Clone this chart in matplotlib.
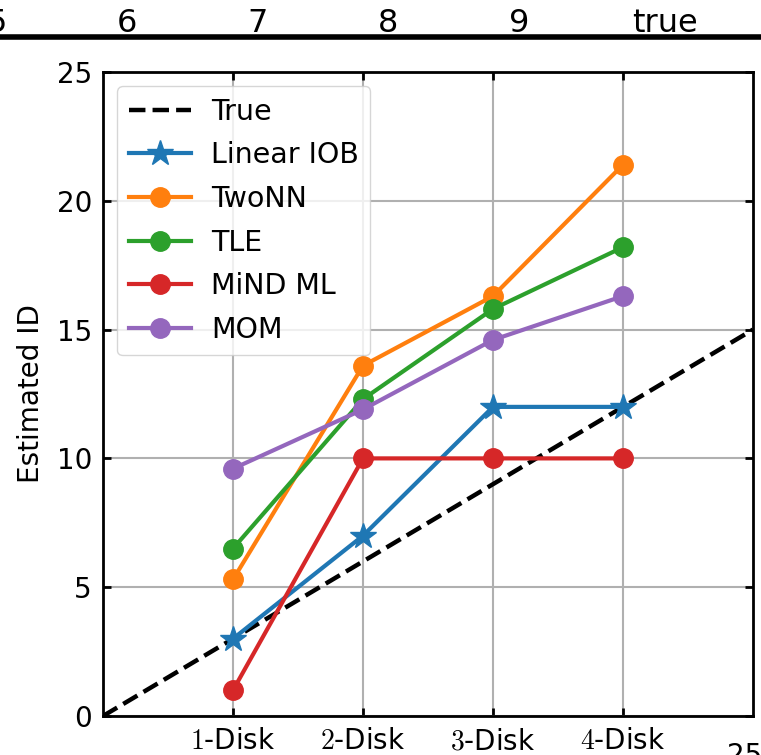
import numpy as np
import matplotlib
matplotlib.use('Agg')
import matplotlib.pyplot as plt
from matplotlib.lines import Line2D

plt.rcParams['mathtext.fontset'] = 'cm'

# data
disks = [1, 2, 3, 4]
disk_labels = [r'$1$-Disk', r'$2$-Disk', r'$3$-Disk', r'$4$-Disk']
true_x = [0, 5]
true_y = [0, 15]
linear_iob = [3, 7, 12, 12]
two_nn = [5.3, 13.6, 16.3, 21.4]
tle = [6.5, 12.3, 15.8, 18.2]
mind_ml = [1, 10, 10, 10]
mom = [9.6, 11.9, 14.6, 16.3]
top_labels = ['5', '6', '7', '8', '9', 'true']
top_pos = [-3, 127, 258, 388, 519, 665]

fig = plt.figure(figsize=(7.61, 7.55), dpi=100)
ax = fig.add_axes([103/761, 39/755, 650/761, 644/755])

ax.plot(true_x, true_y, 'k--', lw=3.2, label='True')
ax.plot(disks, linear_iob, '-*', color='C0', lw=3, ms=19, label='Linear IOB')
ax.plot(disks, two_nn, '-o', color='C1', lw=3, ms=14, label='TwoNN')
ax.plot(disks, tle, '-o', color='C2', lw=3, ms=14, label='TLE')
ax.plot(disks, mind_ml, '-o', color='C3', lw=3, ms=14, label='MiND ML')
ax.plot(disks, mom, '-o', color='C4', lw=3, ms=14, label='MOM')

ax.set_xlim(0, 5)
ax.set_ylim(0, 25)
ax.set_xticks(disks)
ax.set_xticklabels(disk_labels)
ax.set_yticks([0, 5, 10, 15, 20, 25])
ax.grid(True, color='#b0b0b0', lw=1.5)
ax.tick_params(direction='in', top=True, right=True, labelsize=20, width=2, length=6)
ax.tick_params(axis='x', pad=8)
ax.tick_params(axis='y', pad=8)
for s in ax.spines.values():
    s.set_linewidth(2)
ax.set_ylabel('Estimated ID', fontsize=20, labelpad=8)
ax.legend(loc='upper left', fontsize=20.5, framealpha=0.8, handlelength=2.2,
          labelspacing=0.55, borderpad=0.4, handletextpad=0.7)

# pieces of the neighbouring panels that show at the edges
fig.add_artist(Line2D([0, 1], [1 - 37/755, 1 - 37/755], color='k', lw=4,
                      transform=fig.transFigure))
for t, p in zip(top_labels, top_pos):
    fig.text(p/761, 1 - 39/755, t, fontsize=23, ha='center', va='bottom')
fig.text(745/761, -15/755, '25', fontsize=20, ha='center', va='bottom')

fig.savefig('out.png', dpi=100)
